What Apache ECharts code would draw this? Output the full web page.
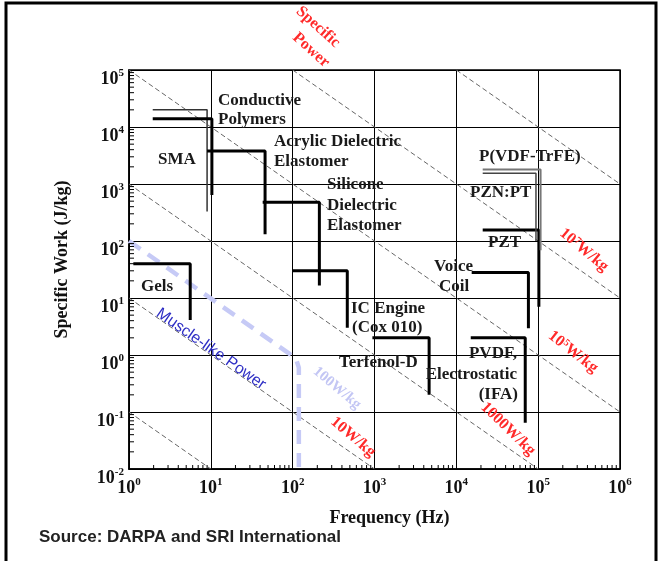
<!DOCTYPE html>
<html>
<head>
<meta charset="utf-8">
<script src="https://cdn.jsdelivr.net/npm/echarts@6/dist/echarts.min.js"></script>
<style>
html,body{margin:0;padding:0;background:#fff;}
#chart{width:663px;height:561px;}
</style>
</head>
<body>
<div id="chart"></div>
<script>
/*
* axis range (decades)
*/
var xMin = 1, xMax = 1e6;
var yMin = 0.01, yMax = 1e5;

// lines of constant specific power, W/kg
var powerLines = [0.1, 10, 1e3, 1e5, 1e7, 1e9];

// actuator outlines: [frequency (Hz), specific work (J/kg)]
var conductivePolymers = [[1.95, 2.0e4], [9.0, 2.0e4], [9.0, 330]];
var sma = [[1.95, 1.4e4], [10.3, 1.4e4], [10.3, 640]];
var acrylic = [[9.0, 3800], [46, 3800], [46, 132]];
var silicone = [[43, 480], [212, 480], [212, 16.5]];
var gels = [[1.13, 40], [5.6, 40], [5.6, 4.1]];
var icEngine = [[100, 30], [465, 30], [465, 3]];
var terfenol = [[943, 2], [4650, 2], [4650, 0.2]];
var voiceCoil = [[15400, 28], [76000, 28], [76000, 2.95]];
var pvdf = [[15000, 2], [69500, 2], [69500, 0.065]];
var pzt = [[21000, 156], [1.02e5, 156], [1.02e5, 7]];
var pvdfTrfeA = [[21000, 1800], [1.07e5, 1800], [1.07e5, 69]];
var pvdfTrfeB = [[21000, 1540], [9.4e4, 1540], [9.4e4, 100]];

// muscle-like power boundary
var muscleLike = [[1, 100], [89, 1.08], [110, 0.85], [119, 0.6], [119, 0.01]];

// minor tick values 2..9 in each decade
var minorX = [], minorY = [];
for (var d = 0; d < 6; d++) {
	for (var k = 2; k < 10; k++) minorX.push(k * Math.pow(10, d));
}
for (var d = -2; d < 5; d++) {
	for (var k = 2; k < 10; k++) minorY.push(k * Math.pow(10, d));
}

var myChart = echarts.init(document.getElementById('chart'));

var serif = '"Liberation Serif", "DejaVu Serif", serif';

function supLabel(v) {
	var e = Math.round(Math.log(v) / Math.LN10);
	return '{b|10}{s|' + e + '}';
}
var supRich = {
	b: { fontFamily: serif, fontWeight: 'bold', fontSize: 18, lineHeight: 22, color: '#111' },
	s: { fontFamily: serif, fontWeight: 'bold', fontSize: 11, lineHeight: 12, verticalAlign: 'top', color: '#111' }
};

function stepSeries(data, width, color) {
	return {
		type: 'line',
		data: data,
		symbol: 'none',
		silent: true,
		lineStyle: { color: color || '#000', width: width },
		z: 5
	};
}

var series = [];
// constant power lines
for (var i = 0; i < powerLines.length; i++) {
	var P = powerLines[i];
	var f0 = Math.max(xMin, P / yMax), f1 = Math.min(xMax, P / yMin);
	series.push({
		type: 'line',
		data: [[f0, P / f0], [f1, P / f1]],
		symbol: 'none',
		silent: true,
		lineStyle: { color: '#666', width: 1, type: [5, 3] },
		z: 2
	});
}
// muscle-like
series.push({
	type: 'line',
	data: muscleLike,
	symbol: 'none',
	silent: true,
	lineStyle: { color: '#c6caf6', width: 4.5, type: [14, 9] },
	z: 3
});
series.push(stepSeries(conductivePolymers, 1.5, '#333'));
series.push(stepSeries(sma, 3));
series.push(stepSeries(acrylic, 3));
series.push(stepSeries(silicone, 3));
series.push(stepSeries(gels, 3));
series.push(stepSeries(icEngine, 3));
series.push(stepSeries(terfenol, 3));
series.push(stepSeries(voiceCoil, 3));
series.push(stepSeries(pvdf, 3));
series.push(stepSeries(pzt, 3));
series.push(stepSeries(pvdfTrfeA, 2, '#777'));
series.push(stepSeries(pvdfTrfeB, 1.5, '#444'));

// minor ticks
series.push({
	type: 'custom',
	silent: true,
	clip: false,
	data: minorX.map(function (v) { return [v, yMin]; }),
	renderItem: function (params, api) {
		var p = api.coord([api.value(0), api.value(1)]);
		return { type: 'line', shape: { x1: p[0], y1: p[1], x2: p[0], y2: p[1] - 4 }, style: { stroke: '#000', lineWidth: 1 } };
	},
	z: 6
});
series.push({
	type: 'custom',
	silent: true,
	clip: false,
	data: minorY.map(function (v) { return [xMin, v]; }),
	renderItem: function (params, api) {
		var p = api.coord([api.value(0), api.value(1)]);
		return { type: 'line', shape: { x1: p[0], y1: p[1], x2: p[0] + 5, y2: p[1] }, style: { stroke: '#000', lineWidth: 1 } };
	},
	z: 6
});

// text annotations
var annoFont = 'bold 17px ' + serif;
var notes = [
	['Conductive', 218, 101], ['Polymers', 218, 120],
	['SMA', 158, 160],
	['Acrylic Dielectric', 274, 142], ['Elastomer', 274, 162],
	['Silicone', 327, 185], ['Dielectric', 327, 206], ['Elastomer', 327, 226],
	['P(VDF-TrFE)', 479, 157], ['PZN:PT', 470, 193], ['PZT', 488, 243],
	['Voice', 434, 267], ['Coil', 439, 287],
	['Gels', 141, 287],
	['IC Engine', 351, 309], ['(Cox 010)', 352, 328],
	['Terfenol-D', 339, 363],
	['PVDF,', 517, 354, 'right'], ['Electrostatic', 517, 375, 'right'], ['(IFA)', 518, 395, 'right']
];
var graphics = [];
notes.forEach(function (n) {
	graphics.push({
		type: 'text', x: n[1], y: n[2], z: 10, silent: true,
		style: { text: n[0], font: annoFont, fill: '#1a1a1a', align: n[3] || 'left', verticalAlign: 'middle' }
	});
});

var deg = Math.PI / 180;
var red = '#ff2a2a';
var redRich = {
	a: { fontFamily: serif, fontWeight: 'bold', fontSize: 16, fill: red, color: red },
	s: { fontFamily: serif, fontWeight: 'bold', fontSize: 10, fill: red, color: red, verticalAlign: 'top', lineHeight: 8 }
};
var tilted = [
	['{a|Specific}', 318, 27, -42],
	['{a|Power}', 311, 50, -42],
	['{a|10}{s|7}{a|W/kg}', 584, 250, -40],
	['{a|10}{s|5}{a|W/kg}', 573, 352, -38],
	['{a|1000W/kg}', 508, 429, -44],
	['{a|10W/kg}', 353, 437, -40]
];
tilted.forEach(function (t) {
	graphics.push({
		type: 'text', x: t[1], y: t[2], rotation: t[3] * deg, z: 10, silent: true,
		style: { text: t[0], rich: redRich, fill: red, align: 'center', verticalAlign: 'middle' }
	});
});
graphics.push({
	type: 'text', x: 337, y: 388, rotation: -40 * deg, z: 10, silent: true,
	style: { text: '100W/kg', font: 'bold 15px ' + serif, fill: '#c3c6f4', align: 'center', verticalAlign: 'middle' }
});
graphics.push({
	type: 'text', x: 211, y: 349, rotation: -35 * deg, z: 10, silent: true,
	style: { text: 'Muscle-like Power', font: '16px "Liberation Sans", Arial, sans-serif', fill: '#2e2ec4', align: 'center', verticalAlign: 'middle' }
});
graphics.push({
	type: 'text', x: 39, y: 537, z: 10, silent: true,
	style: { text: 'Source: DARPA and SRI International', font: 'bold 17px "Liberation Sans", Arial, sans-serif', fill: '#222', align: 'left', verticalAlign: 'middle' }
});
// outer frame (open at the bottom)
graphics.push({
	type: 'rect', z: 10, silent: true,
	shape: { x: 6, y: 3, width: 650, height: 700 },
	style: { fill: 'none', stroke: '#000', lineWidth: 3 }
});

var option = {
	animation: false,
	backgroundColor: '#fff',
	grid: {
		left: 129, right: 43, top: 70, bottom: 92,
		show: true, borderColor: '#000', borderWidth: 1.5,
		outerBoundsMode: 'none'
	},
	xAxis: {
		type: 'log', logBase: 10, min: xMin, max: xMax,
		name: 'Frequency (Hz)', nameLocation: 'middle', nameGap: 40,
		nameTextStyle: { fontFamily: serif, fontWeight: 'bold', fontSize: 18, color: '#111', padding: [0, 0, 0, 30] },
		axisLine: { lineStyle: { color: '#000', width: 1.5 } },
		axisTick: { inside: true, length: 6, lineStyle: { color: '#000' } },
		axisLabel: { margin: 8, formatter: supLabel, rich: supRich },
		splitLine: { show: true, lineStyle: { color: '#000', width: 1 } }
	},
	yAxis: {
		type: 'log', logBase: 10, min: yMin, max: yMax,
		name: 'Specific Work (J/kg)', nameLocation: 'middle', nameGap: 58, nameRotate: 90,
		nameTextStyle: { fontFamily: serif, fontWeight: 'bold', fontSize: 18, color: '#111', padding: [0, 0, 0, 20] },
		axisLine: { lineStyle: { color: '#000', width: 1.5 } },
		axisTick: { inside: true, length: 8, lineStyle: { color: '#000' } },
		axisLabel: { margin: 5, padding: [18, 0, 0, 0], formatter: supLabel, rich: supRich },
		splitLine: { show: true, lineStyle: { color: '#000', width: 1 } }
	},
	graphic: graphics,
	series: series
};
myChart.setOption(option);
</script>
</body>
</html>
